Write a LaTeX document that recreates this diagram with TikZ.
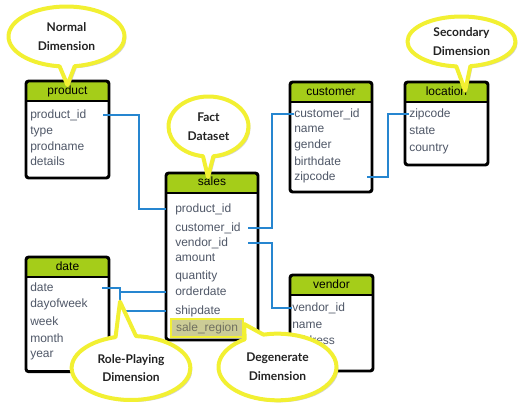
\documentclass[tikz,border=0pt]{standalone}
\usepackage{fontspec}
\setmainfont{Liberation Sans}
\newfontfamily\latofont{Lato}
\usetikzlibrary{shapes.callouts,shadows}

\definecolor{hdrgreen}{RGB}{165,205,25}
\definecolor{linkblue}{RGB}{38,134,208}
\definecolor{bubyellow}{RGB}{242,240,50}
\definecolor{rowtext}{RGB}{80,88,104}
\definecolor{bubtext}{RGB}{35,35,35}
\definecolor{hilitefill}{RGB}{204,204,150}
\definecolor{hilitetext}{RGB}{112,112,96}

\tikzset{
  tbl/.style={draw=black, line width=2.2pt, rounded corners=2pt, fill=white,
    outer sep=0pt, anchor=north west, inner sep=0pt,
    path picture={
      \fill[hdrgreen, sharp corners] (path picture bounding box.north west)
        rectangle ([yshift=-15pt]path picture bounding box.north east);
      \draw[line width=2pt] ([yshift=-15pt]path picture bounding box.north west)
        -- ([yshift=-15pt]path picture bounding box.north east);}},
  hdr/.style={inner sep=0pt, text height=6.5pt, text depth=2pt,
    font=\fontsize{9}{11}\selectfont},
  row/.style={anchor=west, inner sep=0pt, text height=6.5pt, text depth=2pt,
    text=rowtext, font=\fontsize{9}{11}\selectfont},
  hilite/.style={fill=hilitefill, draw=bubyellow, line width=1.5pt,
    inner xsep=3.75pt, inner ysep=2.5pt, text=hilitetext,
    drop shadow={shadow xshift=1pt, shadow yshift=-1pt, opacity=0.3}},
  link/.style={draw=linkblue, line width=2.2pt},
  bubble/.style={ellipse callout, draw=bubyellow, line width=3pt, fill=white,
    line join=round, inner sep=0pt, align=center, text=bubtext,
    font=\latofont\fontsize{9}{14}\selectfont\bfseries,
    drop shadow={shadow xshift=1.5pt, shadow yshift=-1.5pt, opacity=0.35}}
}

\begin{document}
\begin{tikzpicture}[x=0.75pt, y=-0.75pt]
  \useasboundingbox (0,0) rectangle (526,411);

  \node[tbl, minimum width=62.25pt, minimum height=72.75pt] (product) at (26,81) {};
  \node[hdr] at ([yshift=-7.5pt]product.north) {product};
  \node[row] (p-id) at (30,115) {product\_id};
  \node[row] (p-type) at (30,131) {type};
  \node[row] (p-name) at (30,147) {prodname};
  \node[row] (p-details) at (30,162) {details};

  \node[tbl, minimum width=69pt, minimum height=125.25pt] (sales) at (166,173) {};
  \node[hdr] at ([yshift=-7pt]sales.north) {sales};
  \node[row] (s-pid) at (175,209) {product\_id};
  \node[row] (s-cid) at (175,228) {customer\_id};
  \node[row] (s-vid) at (175,243) {vendor\_id};
  \node[row] (s-amount) at (175,258) {amount};
  \node[row] (s-qty) at (175,276) {quantity};
  \node[row] (s-order) at (175,292) {orderdate};
  \node[row] (s-ship) at (175,311) {shipdate};
  \node[row, hilite] (s-region) at (170,328) {sale\_region};

  \node[tbl, minimum width=61.5pt, minimum height=82.5pt] (customer) at (290,82) {};
  \node[hdr] at ([yshift=-7.5pt]customer.north) {customer};
  \node[row] (c-id) at (294,114) {customer\_id};
  \node[row] (c-name) at (294,129) {name};
  \node[row] (c-gender) at (294,145) {gender};
  \node[row] (c-birth) at (294,162) {birthdate};
  \node[row] (c-zip) at (294,177) {zipcode};

  \node[tbl, minimum width=62.25pt, minimum height=62.25pt] (location) at (405,82) {};
  \node[hdr] at ([yshift=-7.5pt]location.north) {location};
  \node[row] (l-zip) at (409,114) {zipcode};
  \node[row] (l-state) at (409,131) {state};
  \node[row] (l-country) at (409,148) {country};

  \node[tbl, minimum width=62.25pt, minimum height=86pt] (date) at (26,257) {};
  \node[hdr] at ([yshift=-7.5pt]date.north) {date};
  \node[row] (d-date) at (30,288) {date};
  \node[row] (d-dow) at (30,304) {dayofweek};
  \node[row] (d-week) at (30,322) {week};
  \node[row] (d-month) at (30,339) {month};
  \node[row] (d-year) at (30,354) {year};

  \node[tbl, minimum width=62.25pt, minimum height=72pt] (vendor) at (290,275) {};
  \node[hdr] at ([yshift=-7.5pt]vendor.north) {vendor};
  \node[row] (v-id) at (292,308) {vendor\_id};
  \node[row] (v-name) at (292,325) {name};
  \node[row] (v-address) at (292,341) {address};

  \draw[link] ([xshift=-4.5pt]product.east |- p-id) -| ([xshift=22.5pt]product.east |- s-pid) -- (sales.west |- s-pid);
  \draw[link] ([xshift=-7.5pt]sales.east |- s-cid) -| ([xshift=10.5pt]sales.east |- c-id) -- (c-id.west);
  \draw[link] ([xshift=-7.5pt]sales.east |- s-vid) -| ([xshift=10.5pt]sales.east |- v-id) -- (v-id.west);
  \draw[link] ([xshift=-3.75pt]customer.east |- c-zip) -| ([xshift=12pt]customer.east |- l-zip) -- (l-zip.west);
  \draw[link] ([xshift=-5.25pt]date.east |- d-date) -| ([xshift=8.25pt]date.east |- s-ship) -- (sales.west |- s-ship);
  \draw[link] ([xshift=8.25pt]date.east |- s-order) -- (sales.west |- s-order);

  \node[bubble, minimum width=87pt, minimum height=45pt,
    callout absolute pointer={([yshift=-3pt]product.north)}] (normal) at (66.5,36.5) {Normal\\Dimension};
  \node[bubble, minimum width=60pt, minimum height=45pt,
    callout absolute pointer={([xshift=-3pt,yshift=-3pt]sales.north)}] (fact) at (208.5,126.5) {Fact\\Dataset};
  \node[bubble, minimum width=81pt, minimum height=37.5pt,
    callout absolute pointer={([xshift=14pt,yshift=-6.5pt]location.north)}] (secondary) at (461.5,41.5) {Secondary\\Dimension};
  \node[bubble, minimum width=89pt, minimum height=48pt, callout pointer arc=20,
    callout absolute pointer={([xshift=8.25pt,yshift=7pt]date.east |- s-ship)}] (roleplay) at (131,368) {Role-Playing\\Dimension};
  \node[bubble, minimum width=88.5pt, minimum height=50pt, callout pointer arc=20,
    callout absolute pointer={([yshift=3pt]s-region.east)}] (degenerate) at (277.5,367) {Degenerate\\Dimension};
\end{tikzpicture}
\end{document}
